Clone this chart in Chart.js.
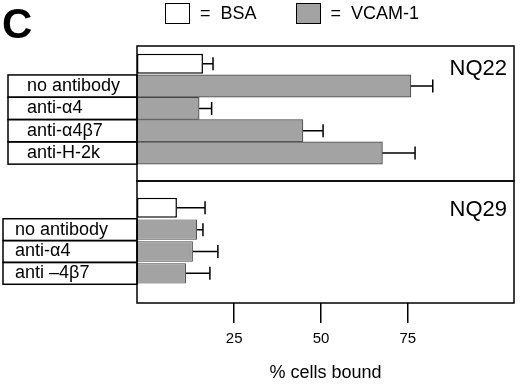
<!DOCTYPE html>
<html>
<head>
<meta charset="utf-8">
<script src="https://cdn.jsdelivr.net/npm/chart.js@4.4.1/dist/chart.umd.min.js"></script>
<style>
  body { margin: 0; background: #fff; }
  #wrap { position: relative; width: 520px; height: 384px; font-family: 'Liberation Sans', Arial, sans-serif; color: #000; }
  #wrap canvas { position: absolute; left: 0; top: 0; }
  #letter { position: absolute; left: 2px; top: 3px; font-weight: bold; font-size: 42px; line-height: 1; }
  #legend { position: absolute; left: 165px; top: 3px; display: flex; align-items: center; font-size: 18px; }
  #legend .item { display: flex; align-items: center; margin-right: 39px; }
  #legend .swatch { width: 25px; height: 21px; box-sizing: border-box; border: 1.5px solid #000; margin-right: 10px; }
  #legend .txt { white-space: pre; }
</style>
</head>
<body>
<div id="wrap">
  <canvas id="bottomChart" width="520" height="384"></canvas>
  <canvas id="topChart" width="520" height="384"></canvas>
  <div id="letter">C</div>
  <div id="legend"></div>
</div>
<script>
// x axis (% cells bound)
const xTicks = [25, 50, 75];
const xMin = -3;
const xMax = 105.6;

// NQ22 panel
const topRows = ['', 'no antibody', 'anti-α4', 'anti-α4β7', 'anti-H-2k'];
const topBSA = [16.0, null, null, null, null];
const topBSAErr = [2.9, null, null, null, null];
const topVCAM = [null, 75.9, 14.9, 44.8, 67.7];
const topVCAMErr = [null, 6.3, 3.6, 5.8, 9.4];

// NQ29 panel
const botRows = ['', 'no antibody', 'anti-α4', 'anti –4β7'];
const botBSA = [8.5, null, null, null];
const botBSAErr = [8.1, null, null, null];
const botVCAM = [null, 14.3, 13.1, 11.1];
const botVCAMErr = [null, 1.7, 7.2, 6.9];

const FONT = "'Liberation Sans', Arial, sans-serif";
Chart.defaults.font.family = FONT;
Chart.defaults.color = '#000';

function points(values, errs) {
  const pts = [];
  values.forEach((v, i) => {
    if (v !== null) pts.push({ x: v, y: i, err: errs[i] });
  });
  return pts;
}

// frame, label boxes, error bars and panel name
const panelDecor = {
  id: 'panelDecor',
  afterDatasetsDraw(chart, args, opts) {
    const { ctx, chartArea: a, scales: { x, y } } = chart;
    ctx.save();
    ctx.strokeStyle = '#000';
    ctx.lineWidth = 1.5;

    const boxLeft = y.left - opts.inset;
    y.ticks.forEach(t => {
      if (!t.label) return;
      const y0 = y.getPixelForValue(t.value - 0.5);
      const y1 = y.getPixelForValue(t.value + 0.5);
      ctx.strokeRect(boxLeft, y0, a.left - boxLeft, y1 - y0);
    });

    chart.data.datasets.forEach((ds, di) => {
      chart.getDatasetMeta(di).data.forEach((bar, j) => {
        const p = ds.data[j];
        const xe = x.getPixelForValue(p.x + p.err);
        ctx.beginPath();
        ctx.moveTo(bar.x, bar.y);
        ctx.lineTo(xe, bar.y);
        ctx.moveTo(xe, bar.y - 6.5);
        ctx.lineTo(xe, bar.y + 6.5);
        ctx.stroke();
      });
    });

    ctx.strokeRect(a.left, a.top, a.width, a.height);

    ctx.fillStyle = '#000';
    ctx.font = '22px ' + FONT;
    ctx.textAlign = 'right';
    ctx.textBaseline = 'alphabetic';
    ctx.fillText(opts.name, a.right - 7, a.top + opts.nameDrop);
    ctx.restore();
  }
};

function makeChart(id, rows, bsa, bsaErr, vcam, vcamErr, cfg) {
  return new Chart(document.getElementById(id), {
    type: 'bar',
    data: {
      datasets: [
        {
          label: 'BSA',
          data: points(bsa, bsaErr),
          backgroundColor: '#ffffff',
          borderColor: '#000',
          borderWidth: 1.5,
          borderSkipped: false,
          grouped: false,
          base: xMin,
          categoryPercentage: 1,
          barPercentage: cfg.bsaPct
        },
        {
          label: 'VCAM-1',
          data: points(vcam, vcamErr),
          backgroundColor: '#a3a3a3',
          borderColor: '#444',
          borderWidth: 1,
          borderSkipped: false,
          grouped: false,
          base: xMin,
          categoryPercentage: 1,
          barPercentage: cfg.vcamPct
        }
      ]
    },
    options: {
      indexAxis: 'y',
      responsive: false,
      animation: false,
      events: [],
      layout: { padding: cfg.padding },
      plugins: {
        legend: { display: false },
        tooltip: { enabled: false },
        panelDecor: { name: cfg.name, nameDrop: cfg.nameDrop, inset: cfg.inset }
      },
      scales: {
        x: {
          type: 'linear',
          display: cfg.showX,
          min: xMin,
          max: xMax,
          afterBuildTicks: s => { s.ticks = xTicks.map(v => ({ value: v })); },
          afterFit: s => { if (cfg.showX) s.height = 81; },
          ticks: { font: { size: 15 }, padding: 7, maxRotation: 0, color: '#000' },
          grid: { drawOnChartArea: false, drawTicks: true, tickLength: 20, color: '#000', lineWidth: 1.5 },
          border: { display: false },
          title: { display: true, text: '% cells bound', font: { size: 18 }, color: '#000', padding: { top: 0, bottom: 0 } }
        },
        y: {
          type: 'linear',
          reverse: true,
          offset: false,
          min: cfg.yMin,
          max: cfg.yMax,
          afterBuildTicks: s => { s.ticks = rows.map((_, i) => ({ value: i })); },
          afterFit: s => { s.width = cfg.axisWidth; },
          ticks: {
            callback: v => rows[v],
            crossAlign: 'far',
            padding: 0,
            autoSkip: false,
            color: '#000',
            font: { size: 18 }
          },
          grid: { display: false },
          border: { display: false }
        }
      }
    },
    plugins: [panelDecor]
  });
}

const topChart = makeChart('topChart', topRows, topBSA, topBSAErr, topVCAM, topVCAMErr, {
  name: 'NQ22', nameDrop: 29, inset: 19,
  padding: { top: 46, left: 27, right: 6, bottom: 203 },
  axisWidth: 110, showX: false,
  yMin: -0.798, yMax: 5.256,
  bsaPct: 0.9, vcamPct: 1
});

const bottomChart = makeChart('bottomChart', botRows, botBSA, botBSAErr, botVCAM, botVCAMErr, {
  name: 'NQ29', nameDrop: 35, inset: 12,
  padding: { top: 181, left: 15, right: 6, bottom: 0 },
  axisWidth: 122, showX: true,
  yMin: -1.227, yMax: 4.357,
  bsaPct: 0.92, vcamPct: 0.93
});

// legend built from the dataset styles
const legendEl = document.getElementById('legend');
topChart.data.datasets.forEach(ds => {
  const item = document.createElement('div');
  item.className = 'item';
  item.innerHTML = `<span class="swatch" style="background:${ds.backgroundColor}"></span><span class="txt">=  ${ds.label}</span>`;
  legendEl.appendChild(item);
});
</script>
</body>
</html>
